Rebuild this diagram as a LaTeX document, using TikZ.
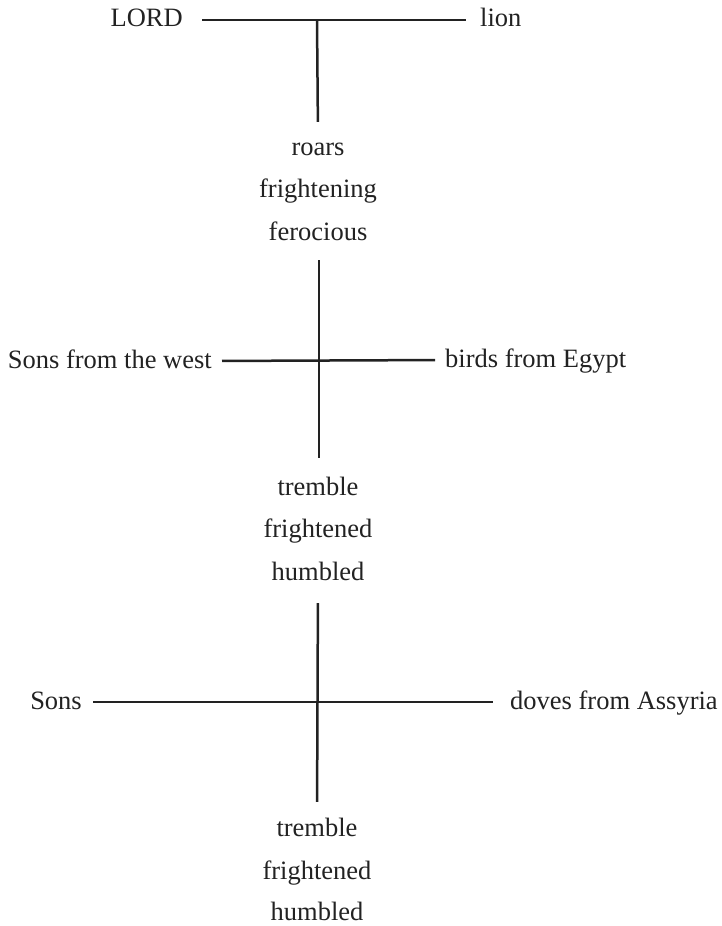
\documentclass[tikz,border=0pt]{standalone}
\usepackage{fontspec}
\setmainfont{Liberation Serif}
\usepackage{tikz}
\usetikzlibrary{positioning}
\definecolor{ink}{RGB}{34,34,34}

\begin{document}
\begin{tikzpicture}[
  x=1pt, y=-1pt,
  word/.style={font=\fontsize{26.5}{30}\selectfont, text=ink, text height=19pt, text depth=5pt, inner sep=0pt},
  bar/.style={line width=2.5pt, draw=ink}
]
\useasboundingbox (0,0) rectangle (721,926);
% LORD / lion
\node[word, anchor=east] (lord) at (183,20) {LORD};
\node[word, anchor=west] (lion) at (480,20) {lion};
\draw[bar, shorten <=19pt, shorten >=14pt] (lord.east) -- (lion.west);
\coordinate (stem) at (317,20);
\foreach \y/\name in {148/roars,190/frightening,233/ferocious}{
  \node[word] (top\name) at (318,\y) {\name};
}
\draw[bar, shorten >=14pt] (stem) -- (toproars.north);
% first cross
\node[word, anchor=east] (west) at (212,361) {Sons from the west};
\node[word, anchor=west] (egypt) at (445,360) {birds from Egypt};
\draw[bar, shorten <=10pt, shorten >=10pt] (west.east) -- (egypt.west);
\foreach \y/\name in {488/tremble,530/frightened,573/humbled}{
  \node[word] (mid\name) at (318,\y) {\name};
}
\draw[bar, shorten <=15pt, shorten >=18pt] ([xshift=1pt]topferocious.south) -- ([xshift=1pt]midtremble.north);
% second cross
\node[word, anchor=east] (sons) at (82,702) {Sons};
\node[word, anchor=west] (doves) at (510,702) {doves from Assyria};
\draw[bar, shorten <=11pt, shorten >=17pt] (sons.east) -- (doves.west);
\foreach \y/\name in {829/tremble,872/frightened,913/humbled}{
  \node[word] (low\name) at (317,\y) {\name};
}
\draw[bar, shorten <=18pt, shorten >=15pt] (midhumbled.south) -- (lowtremble.north);
\end{tikzpicture}
\end{document}
